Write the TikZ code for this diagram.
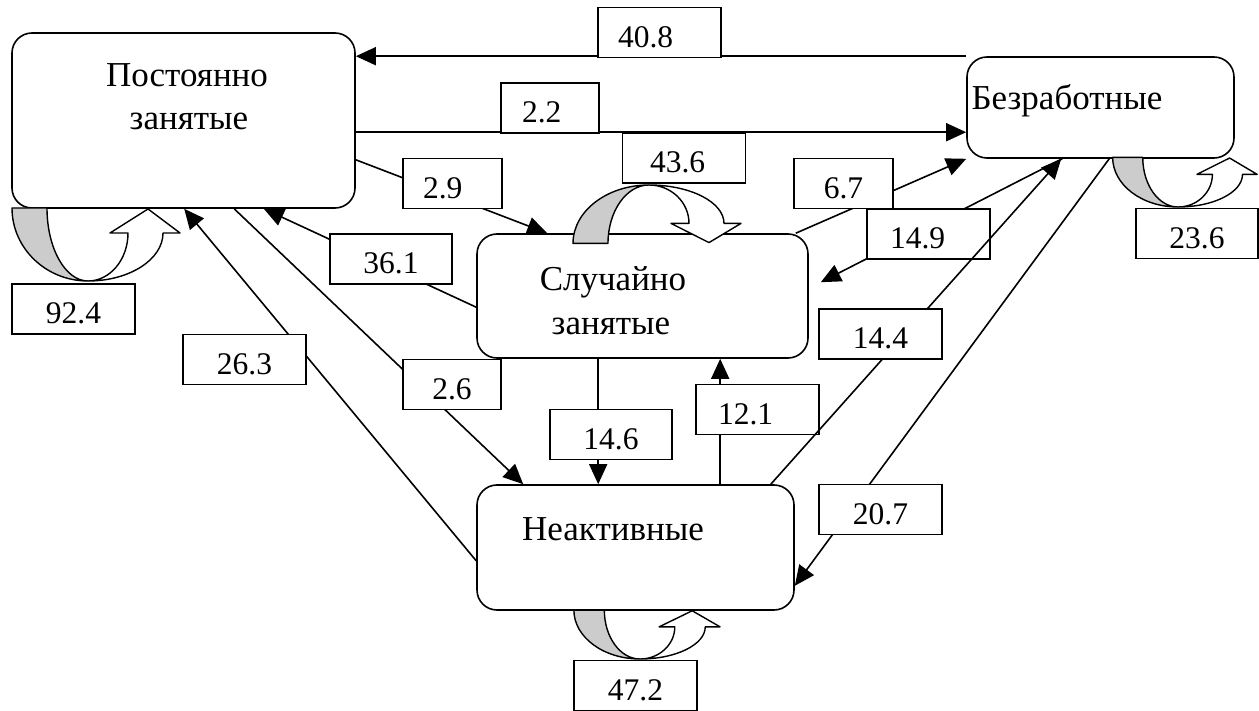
\documentclass[tikz,border=0pt]{standalone}
\usepackage{fontspec}
\setmainfont{Liberation Serif}
\usetikzlibrary{arrows.meta}
\newcommand{\uturnshape}[3]{%
  \begin{scope}[shift={#1}, xscale=#2, yscale=#3]
    \draw[loopgray] (-76,-73) arc[start angle=180, end angle=90, x radius=76, y radius=73]
      arc[start angle=90, end angle=180, x radius=41, y radius=73] -- cycle;
    \draw[loopwhite] (0,0) arc[start angle=90, end angle=0, x radius=40, y radius=48]
      -- (22,-48) -- (60,-72) -- (92,-48) -- (75,-48)
      arc[start angle=0, end angle=90, x radius=75, y radius=48] -- cycle;
  \end{scope}}
\begin{document}
\begin{tikzpicture}[x=1pt,y=-1pt,
  mainbox/.style={draw, fill=white, line width=1.6pt, rounded corners=20pt, inner sep=0pt},
  maintxt/.style={anchor=base, inner sep=0pt, font=\fontsize{35}{42}\selectfont},
  lbox/.style={draw, fill=white, line width=1.6pt, inner sep=0pt, text height=40pt, text depth=10pt, minimum height=50pt, minimum width=123pt, font=\fontsize{31.5}{36}\selectfont},
  narrow/.style={minimum width=98pt},
  lefttxt/.style 2 args={inner xsep=#1, text width=#2, align=left},
  conn/.style={line width=1.6pt},
  arr/.style={conn, -{Triangle[length=20pt,width=18pt]}},
  loopgray/.style={draw, line width=1.4pt, fill=gray!40, line join=round},
  loopwhite/.style={draw, line width=1.4pt, fill=white, line join=round}]
\useasboundingbox (0,0) rectangle (1259,711);

% main boxes
\node[mainbox, minimum width=343pt, minimum height=175pt] (P) at (183.5,120.5) {};
\node[mainbox, minimum width=267pt, minimum height=101pt] (B) at (1100.5,107.5) {};
\node[mainbox, minimum width=331pt, minimum height=124pt] (S) at (642.5,296) {};
\node[mainbox, minimum width=317pt, minimum height=125pt] (N) at (635.5,547.5) {};

\node[maintxt] (Pt1) at (187,87) {Постоянно};
\node[maintxt] (Pt2) at (189,130) {занятые};
\node[maintxt] (Bt) at (1067,110) {Безработные};
\node[maintxt] (St1) at (613,291) {Случайно};
\node[maintxt] (St2) at (611,335) {занятые};
\node[maintxt] (Nt) at (613,540) {Неактивные};

% connector end points
\coordinate (c22) at ([yshift=-100pt]P.north east);
\coordinate (c29a) at ([yshift=49pt]P.south east);
\coordinate (c29b) at ([xshift=71pt]S.north west);
\coordinate (c361a) at ([yshift=-74pt]S.north west);
\coordinate (c361b) at ([xshift=-92pt]P.south east);
\coordinate (c67a) at ([xshift=-13pt]S.north east);
\coordinate (c149a) at ([xshift=96pt]B.south west);
\coordinate (c149b) at ([xshift=12pt,yshift=-49pt]S.north east);
\coordinate (c144a) at ([xshift=-24pt]N.north east);
\coordinate (c144b) at ([xshift=95pt]B.south west);
\coordinate (c207a) at ([xshift=143pt]B.south west);
\coordinate (c207b) at ([yshift=25pt]N.south east);
\coordinate (c263a) at ([yshift=50pt]N.south west);
\coordinate (c263b) at ([xshift=173pt]P.south west);
\coordinate (c26a) at ([xshift=223pt]P.south west);
\coordinate (c26b) at ([xshift=47pt]N.north west);
\coordinate (c146a) at ([xshift=122pt]S.south west);
\coordinate (c121a) at ([xshift=244pt]N.north west);

% connectors
\draw[arr] (B.north west) -- (P.east |- B.north west);
\draw[arr] (c22) -- (c22 -| B.west);
\draw[arr] (c29a) -- (c29b);
\draw[arr] (c361a) -- (c361b);
\draw[arr] (c67a) -- (B.south west);
\draw[arr] (c149a) -- (c149b);
\draw[arr] (c207a) -- (c207b);
\draw[arr] (c263a) -- (c263b);
\draw[arr] (c26a) -- (c26b);
\draw[arr] (c146a) -- (c146a |- N.north);
\draw[arr] (c121a) -- (c121a |- S.south);

% label boxes
\node[lbox, lefttxt={20pt}{83pt}] (l408) at (659.5,32.5) {40.8};
\node[lbox, narrow, lefttxt={21pt}{56pt}] (l22) at (550,108) {2.2};
\node[lbox, lefttxt={27pt}{68pt}] (l436) at (684,158) {43.6};
\node[lbox, narrow, lefttxt={20pt}{59pt}, minimum width=99pt] (l29) at (452.5,183.5) {2.9};
\node[lbox, narrow, minimum width=99pt] (l67) at (843.5,183.5) {6.7};
\node[lbox, lefttxt={23pt}{77pt}] (l149) at (928.5,234) {14.9};
\node[lbox, minimum width=122pt] (l361) at (391,259) {36.1};
\node[lbox, minimum width=122pt] (l236) at (1197,233.5) {23.6};
\node[lbox] (l924) at (73.5,309) {92.4};
\node[lbox] (l263) at (244.5,359.5) {26.3};
\node[lbox, narrow] (l26) at (452,384.5) {2.6};
\node[lbox, lefttxt={22pt}{79pt}] (l121) at (757.5,409.5) {12.1};
\node[lbox, minimum width=122pt] (l146) at (611,434.5) {14.6};
\node[lbox] (l207) at (880.5,509.5) {20.7};
\node[lbox] (l472) at (635.5,685.5) {47.2};

% line crossing over 14.9 box, under its own box
\draw[arr] (c144a) -- (c144b);
\node[lbox] (l144) at (880.5,334) {14.4};

% self loops
\uturnshape{(88,281)}{1}{1}
\uturnshape{(1178,207)}{0.86}{0.68}
\uturnshape{(640,659)}{0.87}{0.67}
\uturnshape{(649,185)}{1}{-0.8}
\end{tikzpicture}
\end{document}
